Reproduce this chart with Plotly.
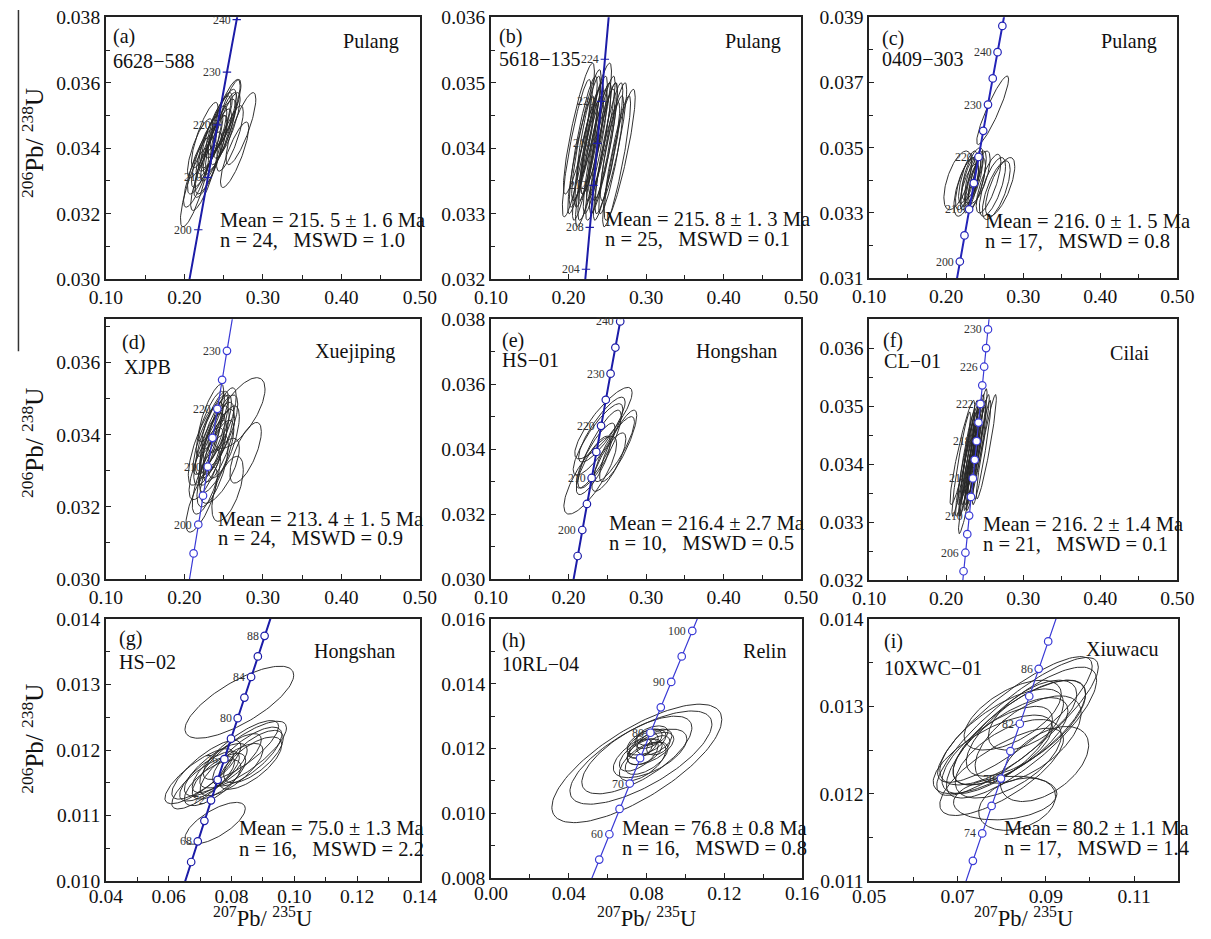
import numpy as np
import plotly.graph_objects as go

# ---------------- concordia reference points (age Ma, 207Pb/235U, 206Pb/238U) ----------------
CONC_AGE_HI = [185, 190, 195, 200, 204, 205, 206, 208, 210, 212, 214, 215, 216, 218, 220,
               222, 224, 225, 226, 228, 230, 235, 240, 245, 250]
CONC_X_HI = [0.19985, 0.20577, 0.21173, 0.21771, 0.22251, 0.22372, 0.22492, 0.22734, 0.22976,
             0.23218, 0.23461, 0.23583, 0.23705, 0.23949, 0.24193, 0.24438, 0.24683, 0.24806,
             0.24929, 0.25176, 0.25422, 0.26041, 0.26664, 0.27289, 0.27917]
CONC_Y_HI = [0.029114, 0.029912, 0.030711, 0.031511, 0.032152, 0.032312, 0.032472, 0.032792,
             0.033113, 0.033434, 0.033754, 0.033914, 0.034075, 0.034396, 0.034717, 0.035038,
             0.035359, 0.035519, 0.035680, 0.036002, 0.036323, 0.037127, 0.037932, 0.038737,
             0.039543]

CONC_AGE_LO = [50, 55, 60, 62, 64, 65, 66, 68, 70, 72, 74, 75, 76, 78, 80, 82, 84, 85, 86, 88,
               90, 92, 95, 100, 105]
CONC_X_LO = [0.050475, 0.055661, 0.060872, 0.062964, 0.065058, 0.066108, 0.067159, 0.069263,
             0.071371, 0.073483, 0.075601, 0.076660, 0.077721, 0.079845, 0.081975, 0.084109,
             0.086245, 0.087316, 0.088388, 0.090534, 0.092684, 0.094838, 0.098078, 0.103498,
             0.108945]
CONC_Y_LO = [0.007786, 0.008568, 0.009351, 0.009664, 0.009977, 0.010134, 0.010290, 0.010605,
             0.010918, 0.011231, 0.011545, 0.011702, 0.011860, 0.012173, 0.012487, 0.012801,
             0.013116, 0.013273, 0.013430, 0.013744, 0.014059, 0.014374, 0.014846, 0.015634,
             0.016422]

# marker ages and labelled ages per panel
A_MARK = [200, 210, 220, 230, 240]
A_LAB = [200, 210, 220, 230, 240]
B_MARK = [204, 208, 212, 216, 220, 224]
B_LAB = [204, 208, 212, 216, 220, 224]
C_MARK = [200, 205, 210, 215, 220, 225, 230, 235, 240, 245]
C_LAB = [200, 210, 220, 230, 240]
D_MARK = [195, 200, 205, 210, 215, 220, 225, 230]
D_LAB = [200, 210, 220, 230]
E_MARK = [195, 200, 205, 210, 215, 220, 225, 230, 235, 240]
E_LAB = [200, 210, 220, 230, 240]
F_MARK = [204, 206, 208, 210, 212, 214, 216, 218, 220, 222, 224, 226, 228, 230]
F_LAB = [206, 210, 214, 218, 222, 226, 230]
G_MARK = [66, 68, 70, 72, 74, 76, 78, 80, 82, 84, 86, 88]
G_LAB = [68, 72, 76, 80, 84, 88]
H_MARK = [55, 60, 65, 70, 75, 80, 85, 90, 95, 100]
H_LAB = [60, 70, 80, 90, 100]
I_MARK = [72, 74, 76, 78, 80, 82, 84, 86, 88]
I_LAB = [74, 78, 82, 86]

# ---------------- error ellipses: centre, half-extent x / y, correlation ----------------
A_CX = [0.213, 0.218, 0.222, 0.225, 0.228, 0.230, 0.232, 0.234, 0.236, 0.238, 0.240, 0.242,
        0.244, 0.246, 0.248, 0.250, 0.252, 0.254, 0.272, 0.264, 0.220, 0.226, 0.256, 0.258]
A_CY = [0.0328, 0.0333, 0.0336, 0.0331, 0.0339, 0.0335, 0.0341, 0.0338, 0.0343, 0.0340, 0.0345,
        0.0342, 0.0347, 0.0344, 0.0348, 0.0346, 0.0350, 0.0347, 0.0346, 0.0338, 0.0340, 0.0344,
        0.0351, 0.0343]
A_SX = [0.018, 0.019, 0.018, 0.017, 0.019, 0.018, 0.017, 0.020, 0.018, 0.017, 0.019, 0.018,
        0.017, 0.019, 0.018, 0.017, 0.019, 0.017, 0.019, 0.018, 0.016, 0.017, 0.016, 0.017]
A_SY = [0.0012, 0.0011, 0.0010, 0.0010, 0.0011, 0.0010, 0.0010, 0.0012, 0.0010, 0.0010, 0.0011,
        0.0010, 0.0010, 0.0011, 0.0010, 0.0011, 0.0011, 0.0010, 0.0011, 0.0010, 0.0009, 0.0010,
        0.0010, 0.0010]
A_RHO = [0.82, 0.83, 0.81, 0.82, 0.83, 0.80, 0.82, 0.83, 0.81, 0.82, 0.83, 0.81, 0.82, 0.83,
         0.81, 0.82, 0.83, 0.81, 0.82, 0.83, 0.78, 0.82, 0.83, 0.81]

B_CX = [0.2105, 0.2134, 0.216, 0.219, 0.221, 0.223, 0.225, 0.227, 0.229, 0.231, 0.233, 0.2354,
        0.237, 0.239, 0.241, 0.243, 0.245, 0.247, 0.249, 0.252, 0.255, 0.258, 0.262, 0.266, 0.226]
B_CY = [0.0340, 0.0343, 0.0339, 0.0341, 0.0338, 0.0342, 0.0340, 0.0338, 0.0341, 0.0339, 0.0342,
        0.0343, 0.0340, 0.0341, 0.0339, 0.0342, 0.0340, 0.0341, 0.0338, 0.0340, 0.0339, 0.0341,
        0.0338, 0.0339, 0.0343]
B_SX = [0.0185, 0.020, 0.017, 0.018, 0.016, 0.019, 0.017, 0.018, 0.016, 0.019, 0.017, 0.020,
        0.018, 0.016, 0.019, 0.017, 0.018, 0.016, 0.017, 0.018, 0.016, 0.017, 0.018, 0.020, 0.015]
B_SY = [0.00105, 0.0010, 0.0009, 0.0010, 0.0009, 0.0010, 0.0009, 0.0010, 0.0009, 0.0010, 0.0009,
        0.0010, 0.0010, 0.0009, 0.0010, 0.0009, 0.0010, 0.0009, 0.0009, 0.0010, 0.0009, 0.0009,
        0.0010, 0.0010, 0.0008]
B_RHO = [0.87, 0.88, 0.89, 0.88, 0.87, 0.89, 0.88, 0.87, 0.89, 0.88, 0.87, 0.88, 0.89, 0.88,
         0.87, 0.89, 0.88, 0.87, 0.89, 0.88, 0.87, 0.88, 0.89, 0.88, 0.87]

C_CX = [0.2603, 0.215, 0.225, 0.228, 0.230, 0.232, 0.234, 0.236, 0.238, 0.240, 0.226, 0.234,
        0.243, 0.255, 0.260, 0.265, 0.270]
C_CY = [0.03615, 0.0340, 0.0339, 0.0341, 0.0338, 0.0340, 0.0339, 0.0341, 0.0339, 0.0340, 0.0338,
        0.0342, 0.0341, 0.0339, 0.0338, 0.0337, 0.0338]
C_SX = [0.0207, 0.018, 0.013, 0.012, 0.012, 0.013, 0.011, 0.012, 0.013, 0.012, 0.016, 0.014,
        0.014, 0.016, 0.017, 0.018, 0.019]
C_SY = [0.00105, 0.0009, 0.0008, 0.0008, 0.0007, 0.0008, 0.0009, 0.0008, 0.0008, 0.0009, 0.0009,
        0.0008, 0.0008, 0.0009, 0.0009, 0.0009, 0.0009]
C_RHO = [0.91, 0.60, 0.70, 0.75, 0.70, 0.70, 0.80, 0.70, 0.70, 0.75, 0.65, 0.70, 0.70, 0.75,
         0.70, 0.70, 0.70]

D_CX = [0.2697, 0.278, 0.222, 0.245, 0.228, 0.232, 0.235, 0.238, 0.240, 0.236, 0.242, 0.230,
        0.244, 0.233, 0.246, 0.226, 0.239, 0.250, 0.228, 0.236, 0.248, 0.241, 0.234, 0.255]
D_CY = [0.0346, 0.0335, 0.0322, 0.0330, 0.0332, 0.0336, 0.0340, 0.0338, 0.0341, 0.0335, 0.0339,
        0.0339, 0.0337, 0.0343, 0.0341, 0.0337, 0.0344, 0.0338, 0.0327, 0.0330, 0.0344, 0.0334,
        0.0346, 0.0325]
D_SX = [0.033, 0.020, 0.020, 0.025, 0.022, 0.020, 0.021, 0.019, 0.020, 0.018, 0.021, 0.019,
        0.020, 0.018, 0.022, 0.021, 0.017, 0.020, 0.018, 0.020, 0.018, 0.022, 0.016, 0.020]
D_SY = [0.00098, 0.00084, 0.0009, 0.0009, 0.0010, 0.0010, 0.0011, 0.0010, 0.0010, 0.0009, 0.0010,
        0.0010, 0.0010, 0.0009, 0.0010, 0.0011, 0.0008, 0.0010, 0.0009, 0.0010, 0.0009, 0.0010,
        0.0008, 0.0009]
D_RHO = [0.68, 0.70, 0.75, 0.70, 0.75, 0.75, 0.80, 0.75, 0.80, 0.75, 0.75, 0.80, 0.75, 0.80,
         0.75, 0.75, 0.80, 0.70, 0.70, 0.70, 0.75, 0.75, 0.80, 0.60]

E_CX = [0.228, 0.245, 0.243, 0.264, 0.259, 0.235, 0.232, 0.240, 0.252, 0.238]
E_CY = [0.0332, 0.0348, 0.0346, 0.0341, 0.0340, 0.0338, 0.0335, 0.0340, 0.0336, 0.0343]
E_SX = [0.034, 0.037, 0.030, 0.024, 0.026, 0.025, 0.022, 0.028, 0.022, 0.032]
E_SY = [0.0012, 0.0011, 0.0010, 0.0011, 0.0010, 0.0010, 0.0009, 0.0012, 0.0009, 0.0011]
E_RHO = [0.80, 0.85, 0.85, 0.85, 0.85, 0.85, 0.80, 0.85, 0.80, 0.85]

F_CX = [0.221, 0.2195, 0.2521, 0.224, 0.226, 0.228, 0.230, 0.232, 0.234, 0.236, 0.238, 0.240,
        0.242, 0.244, 0.227, 0.233, 0.237, 0.231, 0.246, 0.229, 0.239]
F_CY = [0.0342, 0.0340, 0.0343, 0.0339, 0.0341, 0.0340, 0.0342, 0.0341, 0.0343, 0.0342, 0.0344,
        0.0343, 0.0345, 0.0344, 0.0338, 0.0339, 0.0340, 0.0344, 0.0342, 0.0337, 0.0341]
F_SX = [0.016, 0.012, 0.013, 0.012, 0.011, 0.012, 0.011, 0.012, 0.011, 0.012, 0.011, 0.012,
        0.011, 0.012, 0.010, 0.010, 0.010, 0.010, 0.012, 0.013, 0.013]
F_SY = [0.0009, 0.0009, 0.0009, 0.0008, 0.0008, 0.0009, 0.0008, 0.0008, 0.0008, 0.0009, 0.0008,
        0.0008, 0.0008, 0.0008, 0.0007, 0.0007, 0.0007, 0.0007, 0.0009, 0.0009, 0.0009]
F_RHO = [0.92, 0.93, 0.93, 0.93, 0.93, 0.93, 0.93, 0.93, 0.93, 0.93, 0.93, 0.93, 0.93, 0.93,
         0.93, 0.93, 0.93, 0.93, 0.93, 0.93, 0.93]

G_CX = [0.0825, 0.0748, 0.0697, 0.0710, 0.0720, 0.0730, 0.0740, 0.0750, 0.0760, 0.0837, 0.0850,
        0.0860, 0.0830, 0.0870, 0.0800, 0.0785]
G_CY = [0.01273, 0.01088, 0.0116, 0.0115, 0.0117, 0.0116, 0.0115, 0.0117, 0.0116, 0.01193, 0.0119,
        0.0118, 0.0120, 0.0119, 0.0117, 0.0118]
G_SX = [0.0173, 0.0096, 0.0109, 0.0100, 0.0110, 0.0095, 0.0090, 0.0100, 0.0085, 0.0138, 0.0110,
        0.0100, 0.0120, 0.0095, 0.0100, 0.0110]
G_SY = [0.00055, 0.00032, 0.00042, 0.00040, 0.00045, 0.00038, 0.00035, 0.00040, 0.00035, 0.00051,
        0.00045, 0.00040, 0.00045, 0.00040, 0.00040, 0.00045]
G_RHO = [0.75, 0.70, 0.80, 0.80, 0.80, 0.75, 0.70, 0.75, 0.70, 0.80, 0.75, 0.70, 0.80, 0.70,
         0.75, 0.80]

H_CX = [0.075, 0.0771, 0.075, 0.0818, 0.080, 0.078, 0.082, 0.079, 0.081, 0.077, 0.084, 0.076,
        0.080, 0.083, 0.078, 0.086]
H_CY = [0.01154, 0.01172, 0.0118, 0.01185, 0.0122, 0.0121, 0.0120, 0.0119, 0.0123, 0.0120, 0.0122,
        0.0118, 0.0117, 0.0124, 0.0116, 0.0121]
H_SX = [0.0437, 0.0365, 0.0283, 0.0189, 0.010, 0.008, 0.012, 0.009, 0.007, 0.006, 0.009, 0.010,
        0.011, 0.008, 0.012, 0.006]
H_SY = [0.00183, 0.00144, 0.0012, 0.00075, 0.0004, 0.0004, 0.0005, 0.0004, 0.0003, 0.0003, 0.0004,
        0.0005, 0.0005, 0.0003, 0.0006, 0.0003]
H_RHO = [0.74, 0.72, 0.70, 0.60, 0.50, 0.50, 0.60, 0.50, 0.40, 0.40, 0.50, 0.60, 0.60, 0.40,
         0.60, 0.40]

I_CX = [0.0836, 0.0830, 0.0845, 0.0808, 0.0835, 0.0897, 0.0800, 0.0820, 0.0840, 0.0790, 0.0855,
        0.0815, 0.0780, 0.0860, 0.0825, 0.0800, 0.0870]
I_CY = [0.01277, 0.01285, 0.01270, 0.01195, 0.01188, 0.01234, 0.01265, 0.01260, 0.01270, 0.01250,
        0.01275, 0.01240, 0.01245, 0.01262, 0.01290, 0.01225, 0.01290]
I_SX = [0.0183, 0.0175, 0.0170, 0.0117, 0.0087, 0.0100, 0.0140, 0.0130, 0.0150, 0.0125, 0.0135,
        0.0120, 0.0135, 0.0120, 0.0110, 0.0140, 0.0100]
I_SY = [0.00079, 0.00072, 0.00075, 0.00025, 0.00030, 0.00043, 0.00055, 0.00050, 0.00060, 0.00050,
        0.00055, 0.00045, 0.00045, 0.00050, 0.00040, 0.00050, 0.00040]
I_RHO = [0.86, 0.85, 0.80, 0.20, 0.30, 0.50, 0.70, 0.70, 0.75, 0.70, 0.70, 0.60, 0.70, 0.60,
         0.60, 0.75, 0.60]

# ---------------- texts ----------------
LETTERS = ["(a)", "(b)", "(c)", "(d)", "(e)", "(f)", "(g)", "(h)", "(i)"]
SAMPLES = ["6628−588", "5618−135", "0409−303", "XJPB", "HS−01", "CL−01", "HS−02", "10RL−04", "10XWC−01"]
LOCALITIES = ["Pulang", "Pulang", "Pulang", "Xuejiping", "Hongshan", "Cilai", "Hongshan", "Relin", "Xiuwacu"]
MEANS = ["Mean = 215. 5 ± 1. 6 Ma", "Mean = 215. 8 ± 1. 3 Ma", "Mean = 216. 0 ± 1. 5 Ma",
         "Mean = 213. 4 ± 1. 5 Ma", "Mean = 216.4 ± 2.7 Ma", "Mean = 216. 2 ± 1.4 Ma",
         "Mean = 75.0 ± 1.3 Ma", "Mean = 76.8 ± 0.8 Ma", "Mean = 80.2 ± 1.1 Ma"]
STATS = ["n = 24,   MSWD = 1.0", "n = 25,   MSWD = 0.1", "n = 17,   MSWD = 0.8",
         "n = 24,   MSWD = 0.9", "n = 10,   MSWD = 0.5", "n = 21,   MSWD = 0.1",
         "n = 16,   MSWD = 2.2", "n = 16,   MSWD = 0.8", "n = 17,   MSWD = 1.4"]

# ---------------- layout / style ----------------
W, H = 1211, 939
# the photographed page appears slightly reduced; map target picture pixels to page pixels
SX, AX = 0.9715, 17.2
SY, AY = 0.978, 8.7
FS = 1 / SX
FONT = "Liberation Serif, Times New Roman, serif"
DARK = "#1c1ca8"
LIGHT = "#3a3ad6"


def fx(r):
    return min(max((r - AX) / SX, 0), W)


def fy(r):
    return min(max((r - AY) / SY, 0), H)


panels = [
    dict(box=(106, 16, 420, 278), xr=[0.10, 0.50], xd=0.1, xm=0.05, yr=[0.030, 0.038], yd=0.002, ym=0.001,
         ell=(A_CX, A_CY, A_SX, A_SY, A_RHO), hi=True, mark=A_MARK, lab=A_LAB, mstyle="tick", lc=DARK, lw=2,
         letter=(0.018, 0.925), sample=(0.018, 0.835), loc=(0.94, 0.908), mean=(0.357, 0.227, 0.151)),
    dict(box=(491, 16, 801, 278), xr=[0.10, 0.50], xd=0.1, xm=0.05, yr=[0.032, 0.036], yd=0.001, ym=0.0005,
         ell=(B_CX, B_CY, B_SX, B_SY, B_RHO), hi=True, mark=B_MARK, lab=B_LAB, mstyle="tick", lc=DARK, lw=2,
         letter=(0.02, 0.925), sample=(0.02, 0.842), loc=(0.941, 0.908), mean=(0.361, 0.228, 0.155)),
    dict(box=(869, 16, 1177, 277), xr=[0.10, 0.50], xd=0.1, xm=0.05, yr=[0.031, 0.039], yd=0.002, ym=0.001,
         ell=(C_CX, C_CY, C_SX, C_SY, C_RHO), hi=True, mark=C_MARK, lab=C_LAB, mstyle="circle", lc="#2424b8", lw=2,
         letter=(0.035, 0.918), sample=(0.035, 0.839), loc=(0.94, 0.908), mean=(0.371, 0.218, 0.142)),
    dict(box=(106, 318, 420, 578), xr=[0.10, 0.50], xd=0.1, xm=0.05, yr=[0.030, 0.0372], yd=0.002, ym=0.001,
         ell=(D_CX, D_CY, D_SX, D_SY, D_RHO), hi=True, mark=D_MARK, lab=D_LAB, mstyle="circle", lc=LIGHT, lw=1.2,
         letter=(0.045, 0.909), sample=(0.05, 0.816), loc=(0.926, 0.877), mean=(0.352, 0.23, 0.157)),
    dict(box=(491, 318, 801, 578), xr=[0.10, 0.50], xd=0.1, xm=0.05, yr=[0.030, 0.038], yd=0.002, ym=0.001,
         ell=(E_CX, E_CY, E_SX, E_SY, E_RHO), hi=True, mark=E_MARK, lab=E_LAB, mstyle="circle", lc=DARK, lw=2,
         letter=(0.029, 0.919), sample=(0.029, 0.842), loc=(0.93, 0.877), mean=(0.375, 0.2165, 0.14)),
    dict(box=(869, 318, 1177, 579), xr=[0.10, 0.50], xd=0.1, xm=0.05, yr=[0.032, 0.0365], yd=0.001, ym=0.0005,
         ell=(F_CX, F_CY, F_SX, F_SY, F_RHO), hi=True, mark=F_MARK, lab=F_LAB, mstyle="circle", lc=LIGHT, lw=1.2,
         letter=(0.04, 0.92), sample=(0.043, 0.839), loc=(0.914, 0.871), mean=(0.363, 0.216, 0.137)),
    dict(box=(106, 618, 420, 880), xr=[0.04, 0.14], xd=0.02, xm=0.01, yr=[0.010, 0.014], yd=0.001, ym=0.0005,
         ell=(G_CX, G_CY, G_SX, G_SY, G_RHO), hi=False, mark=G_MARK, lab=G_LAB, mstyle="circle", lc=DARK, lw=2,
         letter=(0.034, 0.924), sample=(0.034, 0.837), loc=(0.928, 0.878), mean=(0.418, 0.203, 0.121)),
    dict(box=(491, 618, 802, 877), xr=[0.00, 0.16], xd=0.04, xm=0.02, yr=[0.008, 0.016], yd=0.002, ym=0.001,
         ell=(H_CX, H_CY, H_SX, H_SY, H_RHO), hi=False, mark=H_MARK, lab=H_LAB, mstyle="circle", lc=LIGHT, lw=1.2,
         letter=(0.029, 0.919), sample=(0.029, 0.825), loc=(0.953, 0.876), mean=(0.415, 0.194, 0.117)),
    dict(box=(869, 618, 1178, 880), xr=[0.05, 0.12], xd=0.02, xm=0.01, yr=[0.011, 0.014], yd=0.001, ym=0.0005,
         ell=(I_CX, I_CY, I_SX, I_SY, I_RHO), hi=False, mark=I_MARK, lab=I_LAB, mstyle="circle", lc=LIGHT, lw=1.2,
         letter=(0.041, 0.913), sample=(0.041, 0.814), loc=(0.94, 0.884), mean=(0.431, 0.203, 0.127)),
]

fig = go.Figure()
annotations = []
layout = {}
theta = np.linspace(0, 2 * np.pi, 121)
NB = "\u00a0"

for k, p in enumerate(panels, start=1):
    xa = "x" if k == 1 else f"x{k}"
    ya = "y" if k == 1 else f"y{k}"
    xname = "xaxis" if k == 1 else f"xaxis{k}"
    yname = "yaxis" if k == 1 else f"yaxis{k}"
    l, t, r, b = p["box"]
    dx = [fx(l) / W, fx(r) / W]
    dy = [1 - fy(b) / H, 1 - fy(t) / H]

    xs, ys = [], []
    for cx, cy, sx, sy, rho in zip(*p["ell"]):
        ex = cx + sx * np.cos(theta)
        ey = cy + sy * (rho * np.cos(theta) + np.sqrt(1 - rho * rho) * np.sin(theta))
        xs += list(ex) + [None]
        ys += list(ey) + [None]
    fig.add_trace(go.Scatter(x=xs, y=ys, mode="lines", xaxis=xa, yaxis=ya,
                             line=dict(color="#262626", width=0.95), hoverinfo="skip", showlegend=False))

    ages = CONC_AGE_HI if p["hi"] else CONC_AGE_LO
    cxs = CONC_X_HI if p["hi"] else CONC_X_LO
    cys = CONC_Y_HI if p["hi"] else CONC_Y_LO
    lut = {a: (x, y) for a, x, y in zip(ages, cxs, cys)}

    fig.add_trace(go.Scatter(x=cxs, y=cys, mode="lines", xaxis=xa, yaxis=ya,
                             line=dict(color=p["lc"], width=p["lw"]), hoverinfo="skip", showlegend=False))
    mx = [lut[a][0] for a in p["mark"]]
    my = [lut[a][1] for a in p["mark"]]
    if p["mstyle"] == "circle":
        mk = dict(symbol="circle", size=7.5, color="white", line=dict(color=p["lc"], width=1.2))
    else:
        mk = dict(symbol="line-ew", size=6, line=dict(color=p["lc"], width=1.2))
    fig.add_trace(go.Scatter(x=mx, y=my, mode="markers", xaxis=xa, yaxis=ya, marker=mk,
                             hoverinfo="skip", showlegend=False))
    for a in p["lab"]:
        annotations.append(dict(x=lut[a][0], y=lut[a][1], xref=xa, yref=ya, text=str(a),
                                showarrow=False, xanchor="right", yanchor="middle", xshift=-4,
                                font=dict(family=FONT, size=11.5 * FS, color="#333333")))

    tickfont = dict(family=FONT, size=19 * FS, color="#111111")
    layout[xname] = dict(domain=dx, anchor=ya, range=p["xr"], dtick=p["xd"], tick0=p["xr"][0],
                         tickformat=".2f", showline=True, mirror=True, linecolor="#222222", linewidth=1.5,
                         ticks="inside", ticklen=5, tickcolor="#222222", tickfont=tickfont,
                         ticklabelstandoff=(-3 if k >= 7 else 0),
                         showgrid=False, zeroline=False,
                         minor=dict(dtick=p["xm"], tick0=p["xr"][0], ticks="inside", ticklen=4,
                                    tickcolor="#222222", showgrid=False))
    layout[yname] = dict(domain=dy, anchor=xa, range=p["yr"], dtick=p["yd"], tick0=p["yr"][0],
                         tickformat=".3f", showline=True, mirror=True, linecolor="#222222", linewidth=1.5,
                         ticks="inside", ticklen=5, tickcolor="#222222", tickfont=tickfont,
                         showgrid=False, zeroline=False,
                         minor=dict(dtick=p["ym"], tick0=p["yr"][0], ticks="inside", ticklen=4,
                                    tickcolor="#222222", showgrid=False))

    xd_ref = f"{xa} domain"
    yd_ref = f"{ya} domain"
    txt = dict(family=FONT, size=19.5 * FS, color="#111111")
    mtxt = dict(family=FONT, size=20 * FS, color="#111111")
    annotations.append(dict(x=p["letter"][0], y=p["letter"][1], xref=xd_ref, yref=yd_ref,
                            text=LETTERS[k - 1], showarrow=False, xanchor="left", yanchor="middle", font=txt))
    annotations.append(dict(x=p["sample"][0], y=p["sample"][1], xref=xd_ref, yref=yd_ref,
                            text=SAMPLES[k - 1], showarrow=False, xanchor="left", yanchor="middle", font=txt))
    annotations.append(dict(x=p["loc"][0], y=p["loc"][1], xref=xd_ref, yref=yd_ref,
                            text=LOCALITIES[k - 1], showarrow=False, xanchor="right", yanchor="middle", font=txt))
    annotations.append(dict(x=p["mean"][0], y=p["mean"][1], xref=xd_ref, yref=yd_ref,
                            text=MEANS[k - 1].replace("  ", NB * 2), showarrow=False,
                            xanchor="left", yanchor="middle", font=mtxt))
    annotations.append(dict(x=p["mean"][0], y=p["mean"][2], xref=xd_ref, yref=yd_ref,
                            text=STATS[k - 1].replace(" ", NB), showarrow=False,
                            xanchor="left", yanchor="middle", font=mtxt))

YT = "<sup>206</sup>Pb/ <sup>238</sup>U"
XT = "<sup>207</sup>Pb/ <sup>235</sup>U"
for yc in (142, 442, 738):
    annotations.append(dict(x=fx(33) / W, y=1 - fy(yc) / H, xref="paper", yref="paper", text=YT,
                            textangle=-90, showarrow=False, xanchor="center", yanchor="middle",
                            font=dict(family=FONT, size=25, color="#111111")))
for xc in (263, 646.5, 1023.5):
    annotations.append(dict(x=fx(xc) / W, y=0, xref="paper", yref="paper", text=XT,
                            showarrow=False, xanchor="center", yanchor="bottom", yshift=-5,
                            font=dict(family=FONT, size=22.5, color="#111111")))

shapes = [dict(type="line", xref="paper", yref="paper", x0=1.5 / W, x1=1.5 / W, y0=1.0,
               y1=1 - fy(350) / H, line=dict(color="#333333", width=1.5))]

fig.update_layout(width=W, height=H, margin=dict(l=0, r=0, t=0, b=0), autosize=False,
                  paper_bgcolor="white", plot_bgcolor="white", showlegend=False,
                  annotations=annotations, shapes=shapes, **layout)

fig.write_html("out.html", config=dict(displayModeBar=False, responsive=False),
               post_script="document.body.style.margin='0';")
